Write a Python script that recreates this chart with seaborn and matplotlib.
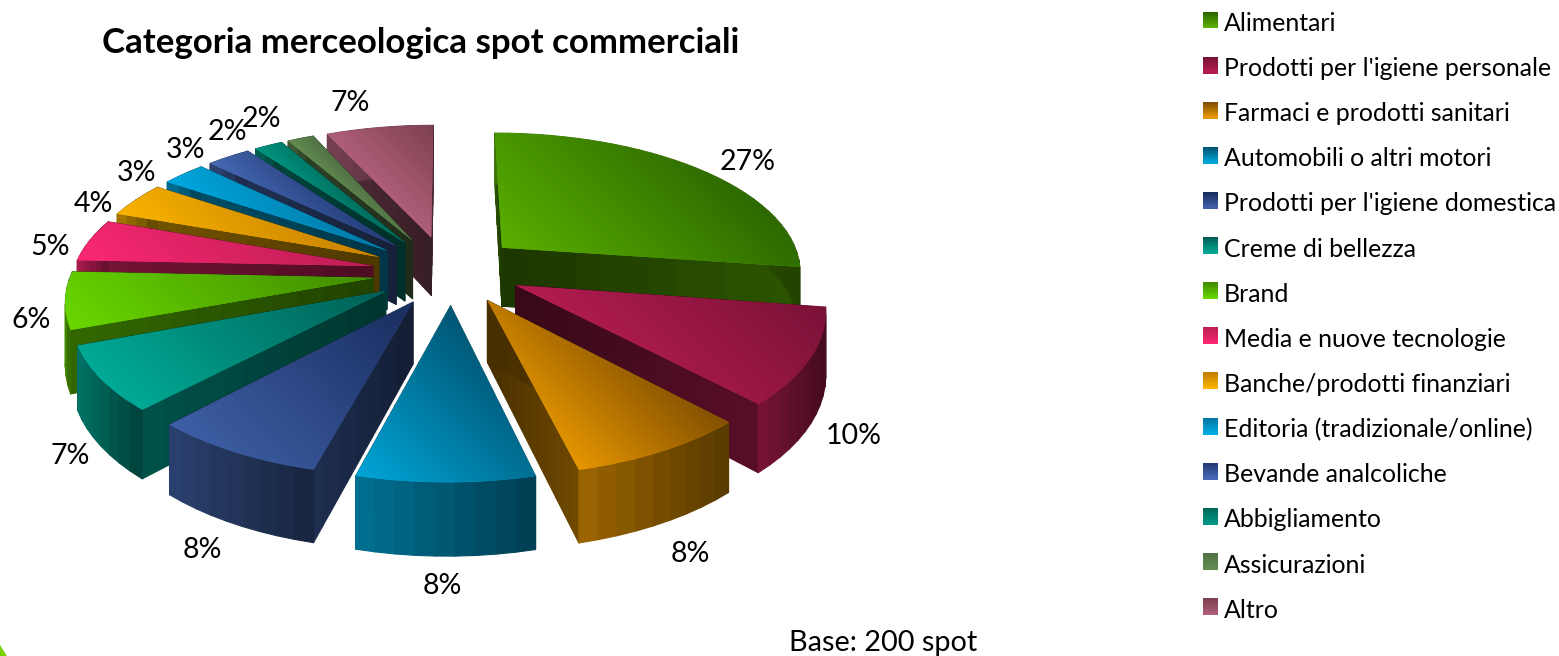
import numpy as np
import matplotlib
matplotlib.use("Agg")
import matplotlib.pyplot as plt
import seaborn as sns
from matplotlib.collections import PolyCollection
from matplotlib.legend_handler import HandlerBase
from matplotlib.patches import Patch, Polygon, Rectangle
from matplotlib.transforms import Transform

# ---------- data ----------
categories = ["Alimentari", "Prodotti per l'igiene personale", "Farmaci e prodotti sanitari",
              "Automobili o altri motori", "Prodotti per l'igiene domestica", "Creme di bellezza",
              "Brand", "Media e nuove tecnologie", "Banche/prodotti finanziari",
              "Editoria (tradizionale/online)", "Bevande analcoliche", "Abbigliamento",
              "Assicurazioni", "Altro"]
values = [27, 10, 8, 8, 8, 7, 6, 5, 4, 3, 3, 2, 2, 7]
title_text = "Categoria merceologica spot commerciali"
base_text = "Base: 200 spot"

# ---------- style ----------
dark_colors = ["#2d6900", "#7a1238", "#825000", "#005573", "#192d5f", "#005f55", "#418c00",
               "#be1e55", "#c88200", "#0078a5", "#233c78", "#00695a", "#507346", "#7d4150"]
bright_colors = ["#5aaf00", "#b41c50", "#e69600", "#00a5d7", "#3e5fa5", "#00aa96", "#69d700",
                 "#fa2873", "#fab400", "#00aae1", "#4669b4", "#009682", "#648c50", "#af5f78"]
label_xy = [(748, 162), (854, 436), (690, 554), (442, 586), (202, 550), (70, 456), (31, 320),
            (50, 247), (93, 204), (137, 173), (186, 150), (227, 132), (261, 119), (350, 103)]

sns.set_theme(style="white")
plt.rcParams["font.family"] = ["Lato", "DejaVu Sans"]

CX, CY, SCALE_X, SCALE_Y, PERSP, DEPTH = 447.0, 270.0, 300.0, 138.0, 0.15, 60.0
EXPLODE = 0.25
# angular distortion of the 3D view: clockwise angle from the top -> extra clockwise degrees
WARP_AT = [0, 60, 100, 130, 160, 180, 217, 245, 265, 285, 300, 320, 330, 338, 350, 360]
WARP_BY = [0, 0, 1.2, 3.5, 4.0, 3.8, 2.8, 3.8, 5.2, 4.5, 4.5, 3, 2, 0.5, 0, 0]


def project(x, y, depth=0.0):
    x, y = np.asarray(x, float), np.asarray(y, float)
    r = np.hypot(x, y)
    th = np.rad2deg(np.arctan2(x, y)) % 360
    th = th + np.interp(th, WARP_AT, WARP_BY) * np.clip(r, 0, 1)
    xw, yw = r * np.sin(np.deg2rad(th)), r * np.cos(np.deg2rad(th))
    w = 1 + PERSP * yw
    return CX + SCALE_X * xw / w, CY - SCALE_Y * yw / w + depth / w


class PieProjection(Transform):
    input_dims = 2
    output_dims = 2

    def transform_non_affine(self, values):
        sx, sy = project(values[:, 0], values[:, 1])
        return np.column_stack([sx, sy])


class GradientHandle(HandlerBase):
    def create_artists(self, legend, orig_handle, xdescent, ydescent, width, height, fontsize, trans):
        cols = sns.blend_palette([orig_handle.get_edgecolor(), orig_handle.get_facecolor()], 8)
        lift = 1.5
        return [Rectangle((-xdescent, lift - ydescent + height * (7 - i) / 8), width, height / 8 + 0.2,
                          facecolor=c, edgecolor="none", transform=trans)
                for i, c in enumerate(cols)]


fig = plt.figure(figsize=(15.59, 6.56), dpi=100)
ax = fig.add_axes([0, 0, 1, 1])

wedges, _ = ax.pie(values, explode=[EXPLODE] * len(values), startangle=90, counterclock=False,
                   colors=bright_colors, wedgeprops={"linewidth": 0})
projection = PieProjection()
order = np.argsort([-np.sin(np.deg2rad((w.theta1 + w.theta2) / 2)) for w in wedges])


def scaled(color, f):
    return tuple(min(1, c * f) for c in matplotlib.colors.to_rgb(color))


for rank, i in enumerate(order):
    w = wedges[i]
    cx0, cy0 = w.center
    base = 10 * (rank + 1)
    bright = bright_colors[i]

    # top face with gradient, clipped on the projected wedge
    w.set_transform(projection + ax.transData)
    w.set_zorder(base + 3)
    vx, vy = project(w.get_path().vertices[:, 0], w.get_path().vertices[:, 1])
    x0, x1, y0, y1 = vx.min(), vx.max(), vy.min(), vy.max()
    wx = (x1 - x0) / ((x1 - x0) + (y1 - y0))
    weight = lambda gx, gy: wx * (1 - gx) + (1 - wx) * gy
    gy, gx = np.mgrid[0:1:128j, 0:1:128j]
    at_vertices = weight((vx - x0) / (x1 - x0), (vy - y0) / (y1 - y0))
    grad = np.clip((weight(gx, gy) - at_vertices.min()) / np.ptp(at_vertices), 0, 1)
    cmap = sns.blend_palette([dark_colors[i], bright], as_cmap=True)
    im = ax.imshow(grad, extent=(x0, x1, y1, y0), cmap=cmap, vmin=0, vmax=1, aspect="auto",
                   zorder=base + 4, interpolation="bilinear")
    im.set_clip_path(w)

    # cut faces: straight on screen between the apex and the rim end
    polys, cols = [], []
    for th in (w.theta1, w.theta2):
        ex, ey = cx0 + np.cos(np.deg2rad(th)), cy0 + np.sin(np.deg2rad(th))
        t0, t1 = np.array(project(cx0, cy0)), np.array(project(ex, ey))
        b0, b1 = np.array(project(cx0, cy0, DEPTH)), np.array(project(ex, ey, DEPTH))
        fr = np.linspace(0, 1, 13)
        for a, b in zip(fr[:-1], fr[1:]):
            polys.append([t0 + a * (t1 - t0), t0 + b * (t1 - t0), b0 + b * (b1 - b0), b0 + a * (b1 - b0)])
            cols.append(scaled(bright, 0.3 + 0.18 * b))
    ax.add_collection(PolyCollection(polys, facecolors=cols, edgecolors=cols, linewidths=0.8,
                                     zorder=base + 1))

    # outer rim as vertical bands
    n = max(3, int((w.theta2 - w.theta1) / 3))
    ang = np.deg2rad(np.linspace(w.theta1, w.theta2, n + 1))
    rx, ry = cx0 + np.cos(ang), cy0 + np.sin(ang)
    sx, _ = project(rx, ry)
    polys, cols = [], []
    for j in range(n):
        polys.append([project(rx[j], ry[j]), project(rx[j + 1], ry[j + 1]),
                      project(rx[j + 1], ry[j + 1], DEPTH), project(rx[j], ry[j], DEPTH)])
        t = (0.5 * (sx[j] + sx[j + 1]) - sx.min()) / max(sx.max() - sx.min(), 1)
        cols.append(scaled(bright, 0.68 - 0.3 * t))
    ax.add_collection(PolyCollection(polys, facecolors=cols, edgecolors=cols, linewidths=0.8,
                                     zorder=base + 2))

# percentage labels
for v, (lx, ly) in zip(values, label_xy):
    ax.text(lx, ly, f"{v}%", ha="center", va="center", fontsize=20.5, color="black", zorder=500)

ax.text(102, 43, title_text, ha="left", va="center", fontsize=25.1, fontweight="bold",
        color="black", zorder=500)
ax.text(789, 643, base_text, ha="left", va="center", fontsize=20.8, color="black", zorder=500)

# decorative corner of the slide
ax.add_patch(Polygon([(0, 645), (7, 656), (0, 656)], closed=True, facecolor="#78d200",
                     edgecolor="none", zorder=500))

handles = [Patch(facecolor=b, edgecolor=d, label=c)
           for c, b, d in zip(categories, bright_colors, dark_colors)]
FS = 17.9
ax.legend(handles=handles, handler_map={Patch: GradientHandle()}, loc="upper left",
          bbox_to_anchor=(1203 / 1559, 1 - 12 / 656), bbox_transform=fig.transFigure,
          frameon=False, fontsize=FS, borderaxespad=0, borderpad=0, handlelength=10.8 / FS,
          handleheight=11.5 / FS, handletextpad=0.25, labelspacing=0.889, labelcolor="black")

ax.set_aspect("auto")
ax.set_xlim(0, 1559)
ax.set_ylim(656, 0)
ax.axis("off")
fig.savefig("out.png", dpi=100, facecolor="white")
